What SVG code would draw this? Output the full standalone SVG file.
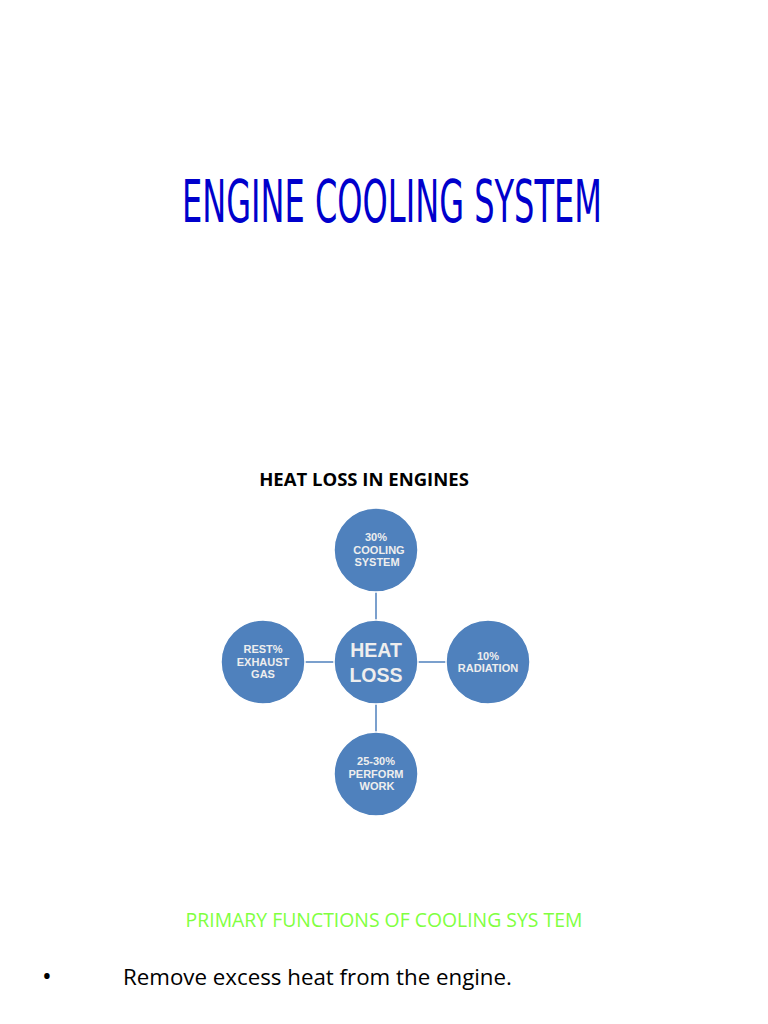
<svg xmlns="http://www.w3.org/2000/svg" width="768" height="1024" viewBox="0 0 768 1024">
<style>
.n{fill:#4f81bd;stroke:#ffffff;stroke-width:1.5}
.t{font-family:"Liberation Sans",Arial,sans-serif;font-weight:bold;fill:#eeeeee;text-anchor:middle;font-size:11px}
.big{font-size:19.5px}
.c{stroke:#4f81bd;stroke-width:1.5}
</style>
<rect width="768" height="1024" fill="#fff"/>
<text x="392" y="222" font-family="DejaVu Sans Condensed,DejaVu Sans,sans-serif" font-size="58" fill="#0000cc" text-anchor="middle" textLength="420" lengthAdjust="spacingAndGlyphs">ENGINE COOLING SYSTEM</text>
<text x="364" y="486" font-family="Open Sans,sans-serif" font-weight="bold" font-size="18.5" fill="#000" text-anchor="middle">HEAT LOSS IN ENGINES</text>
<g id="connectors">
<line class="c" x1="376" y1="592" x2="376" y2="620"/>
<line class="c" x1="376" y1="704" x2="376" y2="732"/>
<line class="c" x1="305" y1="662" x2="334" y2="662"/>
<line class="c" x1="418" y1="662" x2="446" y2="662"/>
</g>
<g id="top"><circle class="n" cx="376" cy="550" r="42"/><text class="t" x="376" y="541">30%</text><text class="t" x="379" y="554">COOLING</text><text class="t" x="377" y="566">SYSTEM</text></g>
<g id="center"><circle class="n" cx="376" cy="662" r="42"/><text class="t big" x="376" y="657">HEAT</text><text class="t big" x="376" y="682">LOSS</text></g>
<g id="left"><circle class="n" cx="263" cy="662" r="42"/><text class="t" x="263" y="653">REST%</text><text class="t" x="263" y="666">EXHAUST</text><text class="t" x="263" y="678">GAS</text></g>
<g id="right"><circle class="n" cx="488" cy="662" r="42"/><text class="t" x="488" y="660">10%</text><text class="t" x="488" y="672">RADIATION</text></g>
<g id="bottom"><circle class="n" cx="376" cy="774" r="42"/><text class="t" x="376" y="765">25-30%</text><text class="t" x="376" y="778">PERFORM</text><text class="t" x="377" y="790">WORK</text></g>
<text x="384" y="927" font-family="Open Sans,sans-serif" font-size="19.4" fill="#80ff40" text-anchor="middle">PRIMARY FUNCTIONS OF COOLING SYS TEM</text>
<text x="42" y="985" font-family="Open Sans,sans-serif" font-size="26" fill="#000">•</text>
<text x="123" y="985" font-family="Open Sans,sans-serif" font-size="22.3" fill="#000">Remove excess heat from the engine.</text>
</svg>
